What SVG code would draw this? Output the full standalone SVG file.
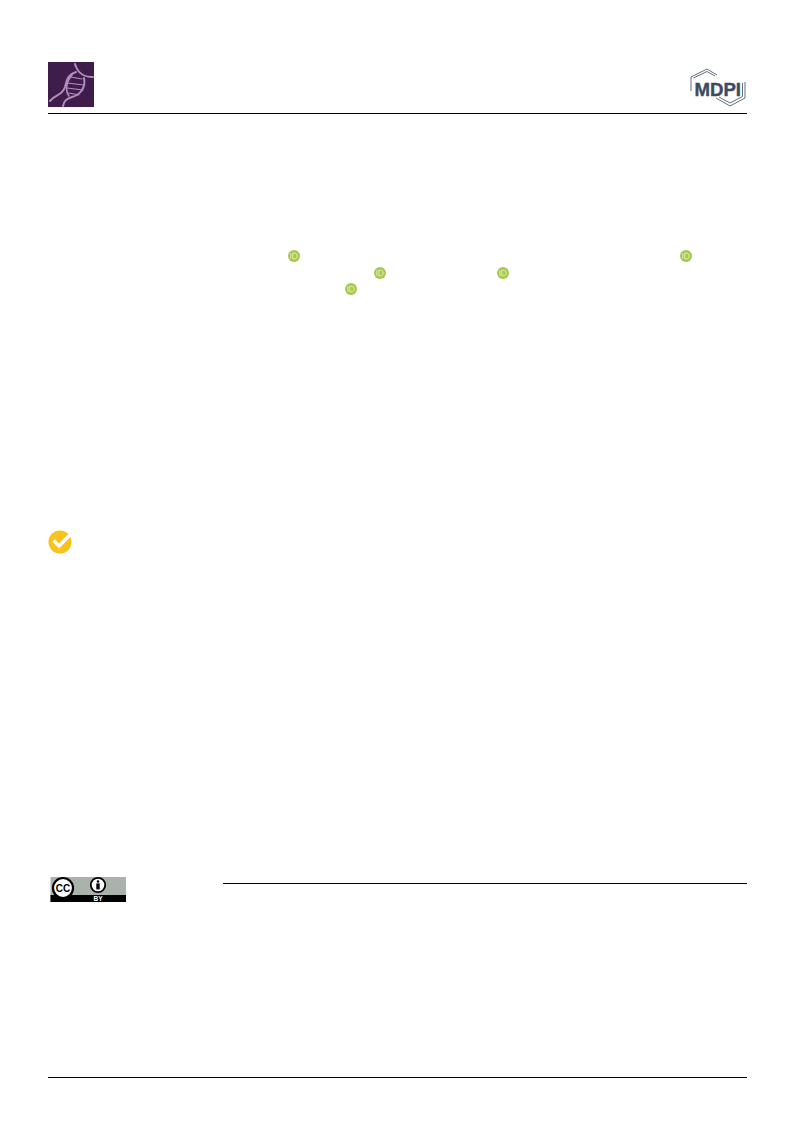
<svg xmlns="http://www.w3.org/2000/svg" width="793" height="1121" viewBox="0 0 793 1121">
<style>
.rule{stroke:#000;stroke-width:1;fill:none}
.hex{fill:none;stroke:#3e4a5f;stroke-width:.8}
.dna{fill:none;stroke:#b48cc0;stroke-linecap:round}
.sans{font-family:"Liberation Sans",Arial,sans-serif;font-weight:bold}
</style>
<defs>
<g id="oid"><circle r="6" fill="#a6c94a"/><path d="M-3.200-2.800V2.800M-1.200-2.800V2.800H.8C4 2.800 4-2.800 .8-2.800H-1.200Z" fill="none" stroke="#fff" stroke-opacity=".8" stroke-width=".8"/></g>
</defs>
<rect width="793" height="1121" fill="#fff"/>
<g id="journal-logo">
<rect x="48" y="62" width="46" height="45" fill="#3f1d4b"/>
<path class="dna" stroke-width="2" d="M50 101C56 94 62 96 65 87C67 79 68 75 76 72"/>
<path class="dna" stroke-width="2" d="M75 64C78 74 84 77 93 77"/>
<path class="dna" stroke-width="2" d="M84 78C86 88 80 95 72 97C66 99 64 101 63 106"/>
<path class="dna" stroke-width="1.600" d="M72 75C66 82 65 91 69 96"/>
<path class="dna" stroke-width="1.200" d="M71 77L82 79M67 83L84 85M67 88L83 90M69 93L79 95"/>
</g>
<g id="mdpi-logo">
<path class="hex" d="M691 91V77L707 69L717 75"/><path class="hex" d="M693.500 78L707 71.500L715 76"/>
<path class="hex" d="M745 82V98L730 106L716 98"/><path class="hex" d="M742.500 83V96.500L730 103L719 97"/>
<text class="sans" x="694.500" y="95.500" font-size="18" fill="#3e4a5f" stroke="#3e4a5f" stroke-width=".4" textLength="46.500" lengthAdjust="spacingAndGlyphs">MDPI</text>
</g>
<g id="rules">
<line class="rule" x1="48" y1="113.500" x2="747" y2="113.500"/>
<line class="rule" x1="223" y1="883.500" x2="747" y2="883.500"/>
<line class="rule" x1="48" y1="1077.500" x2="747" y2="1077.500"/>
</g>
<g id="orcid-icons">
<use href="#oid" x="294" y="256"/>
<use href="#oid" x="686" y="256"/>
<use href="#oid" x="380" y="273"/>
<use href="#oid" x="503" y="273"/>
<use href="#oid" x="351" y="289"/>
</g>
<g id="check-badge">
<circle cx="60" cy="542" r="11.500" fill="#f9c21c"/>
<path d="M53.500 540.500L59 546L71 534" fill="none" stroke="#fff" stroke-width="3.400"/>
</g>
<g id="cc-badge">
<rect x="50.500" y="877" width="75.500" height="25" fill="#aab2ab"/>
<rect x="50.500" y="895" width="75.500" height="7" fill="#000"/>
<circle cx="63" cy="888" r="10" fill="#fff" stroke="#000" stroke-width="2.200"/>
<text class="sans" x="63" y="891.500" font-size="10" text-anchor="middle" fill="#000">CC</text>
<circle cx="98" cy="885" r="7.200" fill="#fff" stroke="#000" stroke-width="1.800"/>
<circle cx="98" cy="881.500" r="1.300" fill="#000"/>
<rect x="96.300" y="883.400" width="3.400" height="6" fill="#000"/>
<text class="sans" x="98" y="901.200" font-size="6.500" text-anchor="middle" fill="#fff">BY</text>
</g>
</svg>
